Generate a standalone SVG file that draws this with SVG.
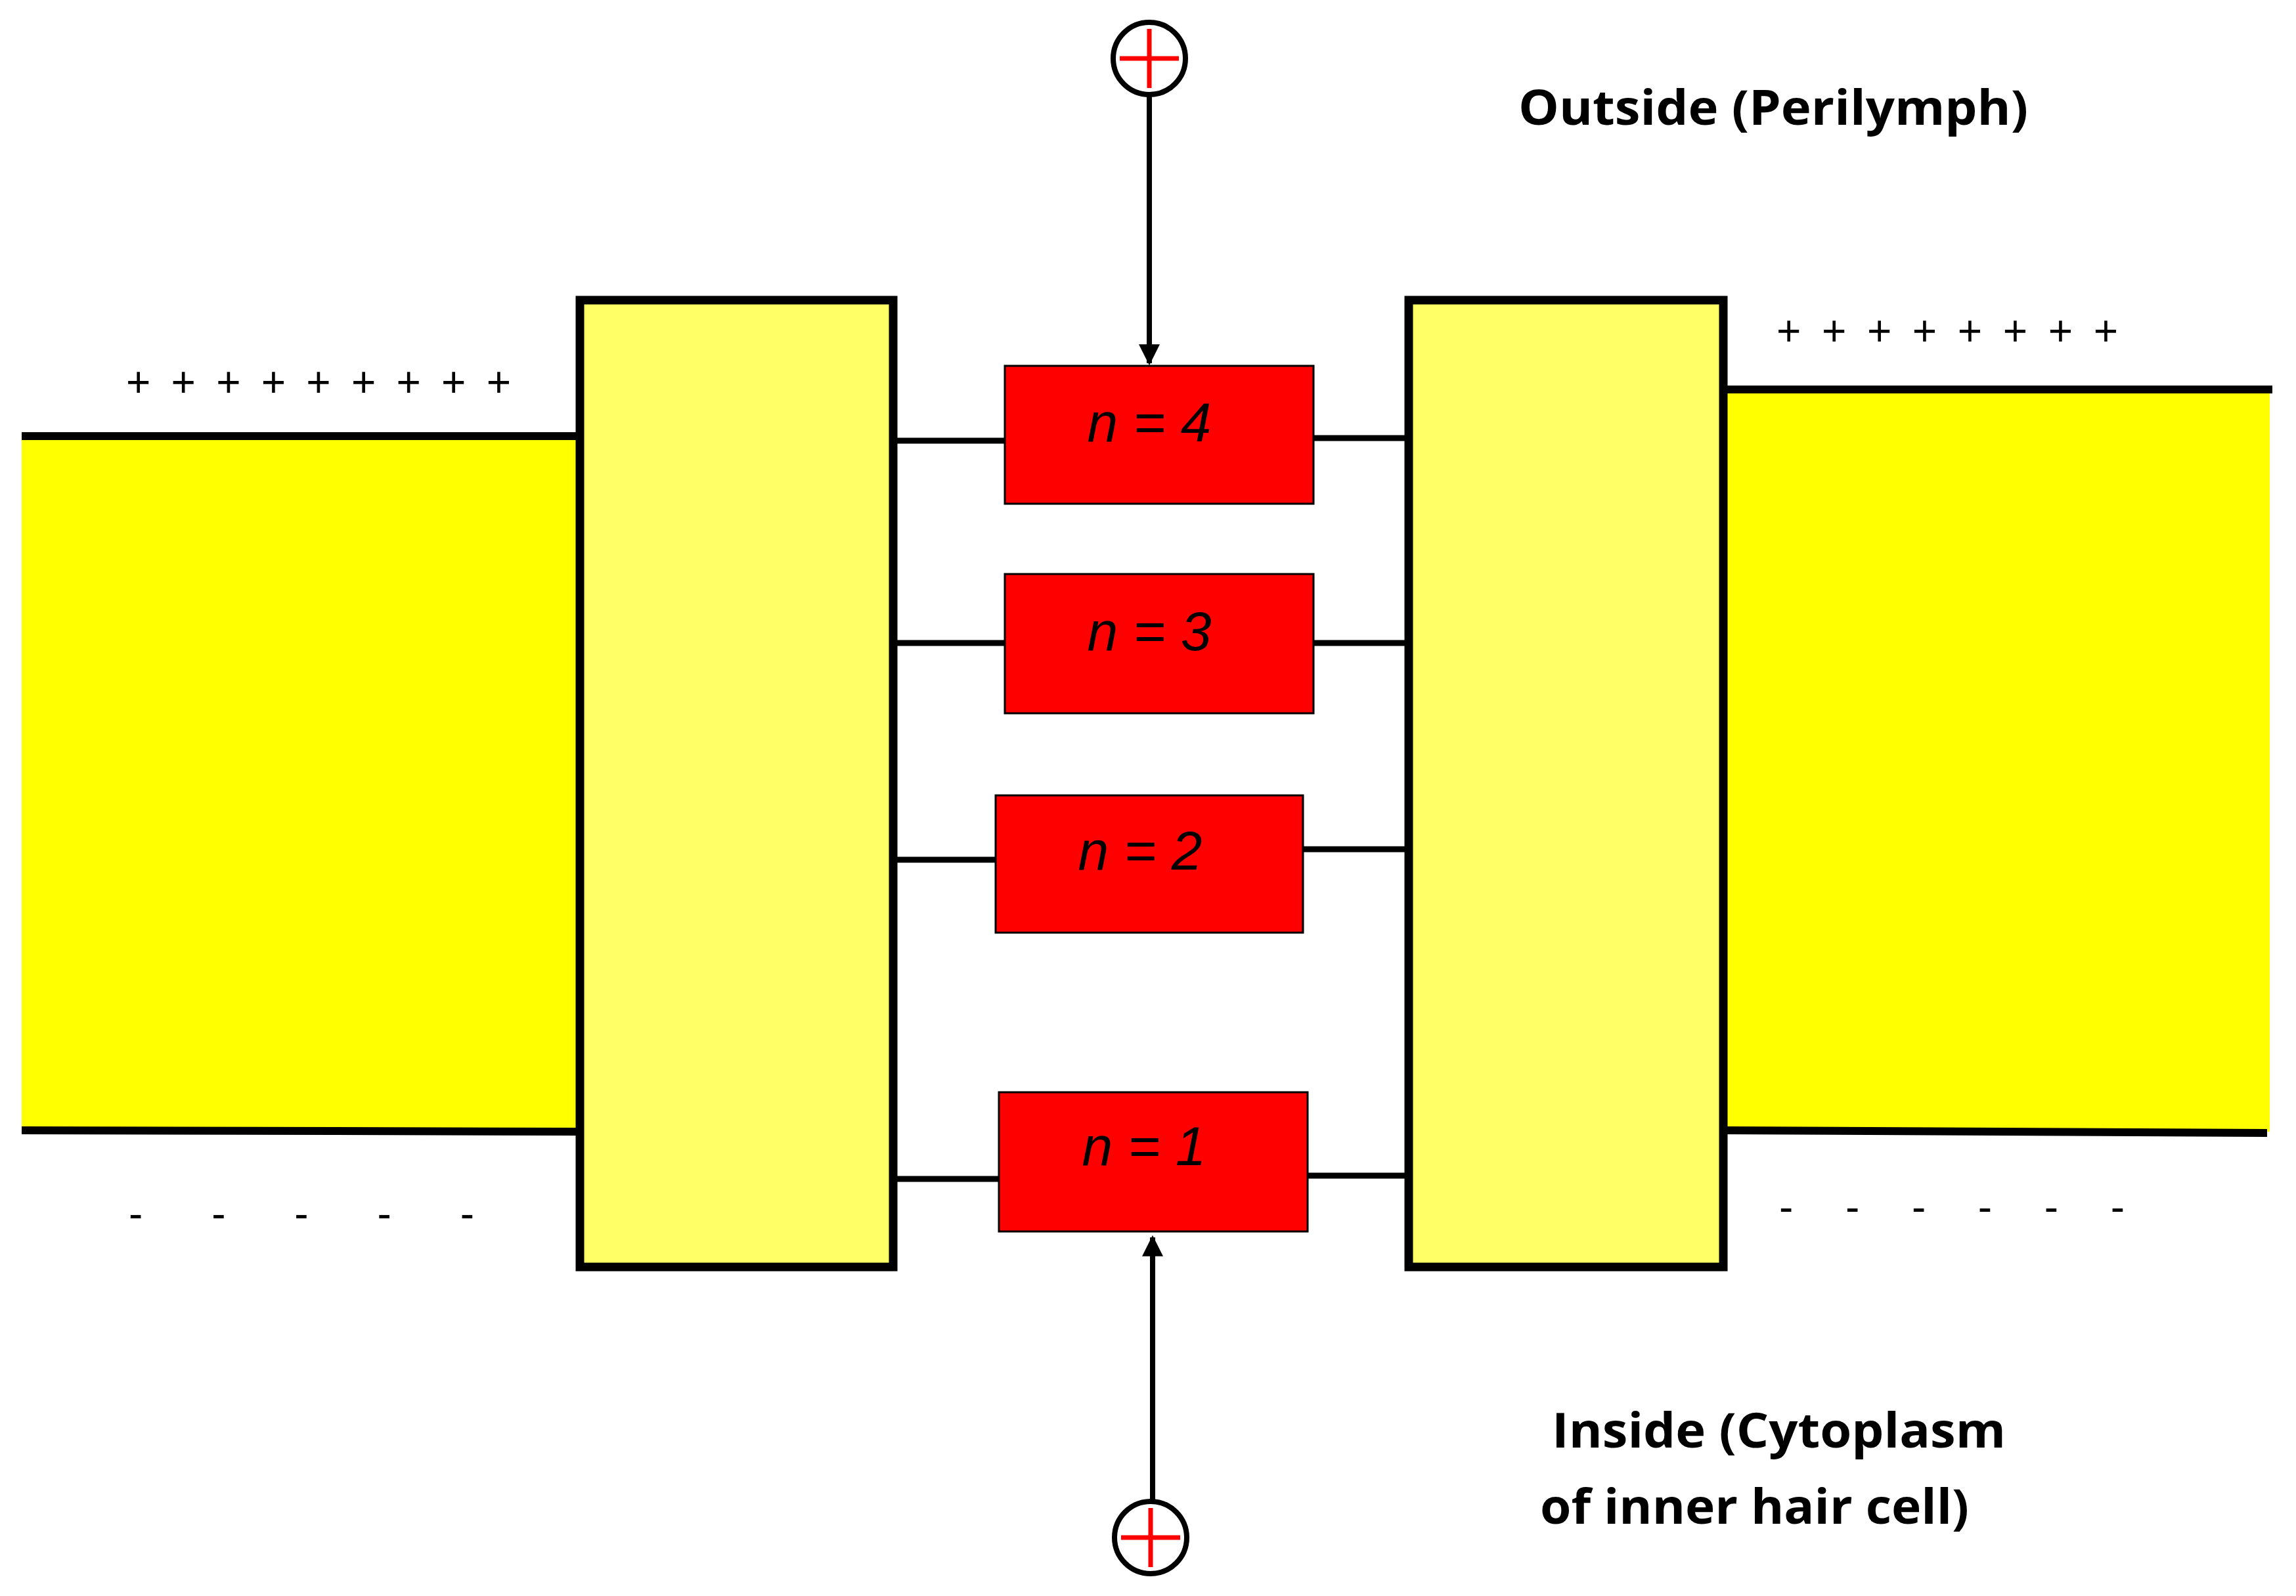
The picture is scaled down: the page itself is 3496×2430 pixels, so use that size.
<svg xmlns="http://www.w3.org/2000/svg" width="3496" height="2430" viewBox="0 0 3496 2430">
<defs>
<style>
.band{fill:#ffff00}
.edge{stroke:#000;stroke-width:12;fill:none}
.pillar{fill:#ffff66;stroke:#000;stroke-width:13}
.red{fill:#ff0000;stroke:#000;stroke-width:3}
.lbl{font-family:"Liberation Sans",Arial,sans-serif;font-style:italic;font-size:84px;fill:#000;text-anchor:middle}
.link{stroke:#000;stroke-width:9}
.txt{font-family:"Open Sans","Liberation Sans",sans-serif;font-weight:bold;font-size:74px;fill:#000}
.sign{font-family:"Liberation Sans",Arial,sans-serif;font-size:64px;fill:#000}
</style>
<marker id="ah" viewBox="0 0 10 10" refX="9" refY="5" markerWidth="4" markerHeight="4" orient="auto"><path d="M0,0 L10,5 L0,10 z" fill="#000"/></marker>
</defs>
<rect width="3496" height="2430" fill="#fff"/>
<g id="left-membrane">
<rect class="band" x="33" y="664" width="850" height="1059"/>
<line class="edge" x1="33" y1="664" x2="883" y2="664"/>
<line class="edge" x1="33" y1="1721" x2="883" y2="1723"/>
</g>
<g id="right-membrane">
<rect class="band" x="2624" y="593" width="832" height="1130"/>
<line class="edge" x1="2624" y1="593" x2="3460" y2="593"/>
<line class="edge" x1="2624" y1="1721" x2="3452" y2="1725"/>
</g>
<g id="connectors">
<line class="link" x1="1360" y1="671" x2="1530" y2="671"/>
<line class="link" x1="2000" y1="667" x2="2145" y2="667"/>
<line class="link" x1="1360" y1="979" x2="1530" y2="979"/>
<line class="link" x1="2000" y1="979" x2="2145" y2="979"/>
<line class="link" x1="1360" y1="1309" x2="1516" y2="1309"/>
<line class="link" x1="1984" y1="1293" x2="2145" y2="1293"/>
<line class="link" x1="1360" y1="1795" x2="1521" y2="1795"/>
<line class="link" x1="1991" y1="1790" x2="2145" y2="1790"/>
<line stroke="#000" stroke-width="8" x1="1750" y1="147" x2="1750" y2="553" marker-end="url(#ah)"/>
<line stroke="#000" stroke-width="8" x1="1755" y1="2283" x2="1755" y2="1884" marker-end="url(#ah)"/>
</g>
<g id="left-pillar"><rect class="pillar" x="883" y="457" width="477" height="1472"/></g>
<g id="right-pillar"><rect class="pillar" x="2145" y="457" width="479" height="1472"/></g>
<g id="n4"><rect class="red" x="1530" y="557" width="470" height="210"/><text class="lbl" x="1750" y="672">n = 4</text></g>
<g id="n3"><rect class="red" x="1530" y="874" width="470" height="212"/><text class="lbl" x="1750" y="990">n = 3</text></g>
<g id="n2"><rect class="red" x="1516" y="1211" width="468" height="209"/><text class="lbl" x="1736" y="1324">n = 2</text></g>
<g id="n1"><rect class="red" x="1521" y="1663" width="470" height="212"/><text class="lbl" x="1742" y="1774">n = 1</text></g>
<g id="ion-top">
<circle cx="1750" cy="89" r="55" fill="#fff" stroke="#000" stroke-width="8"/>
<line x1="1705" y1="89" x2="1795" y2="89" stroke="#ff0000" stroke-width="7"/>
<line x1="1750" y1="44" x2="1750" y2="134" stroke="#ff0000" stroke-width="7"/>
</g>
<g id="ion-bottom">
<circle cx="1752" cy="2341" r="55" fill="#fff" stroke="#000" stroke-width="8"/>
<line x1="1707" y1="2341" x2="1797" y2="2341" stroke="#ff0000" stroke-width="7"/>
<line x1="1752" y1="2296" x2="1752" y2="2386" stroke="#ff0000" stroke-width="7"/>
</g>
<g id="labels">
<text class="txt" x="2312" y="190" textLength="776" lengthAdjust="spacingAndGlyphs">Outside (Perilymph)</text>
<text class="txt" x="2363" y="2204" textLength="691" lengthAdjust="spacingAndGlyphs">Inside (Cytoplasm</text>
<text class="txt" x="2345" y="2320" textLength="653" lengthAdjust="spacingAndGlyphs">of inner hair cell)</text>
<text class="sign" x="192" y="604" textLength="586" lengthAdjust="spacing">+++++++++</text>
<text class="sign" x="2705" y="526" textLength="520" lengthAdjust="spacing">++++++++</text>
<text class="sign" x="196" y="1870" textLength="526" lengthAdjust="spacing">-    -    -    -    -</text>
<text class="sign" x="2709" y="1860" textLength="526" lengthAdjust="spacing">-    -    -    -    -    -</text>
</g>
</svg>
